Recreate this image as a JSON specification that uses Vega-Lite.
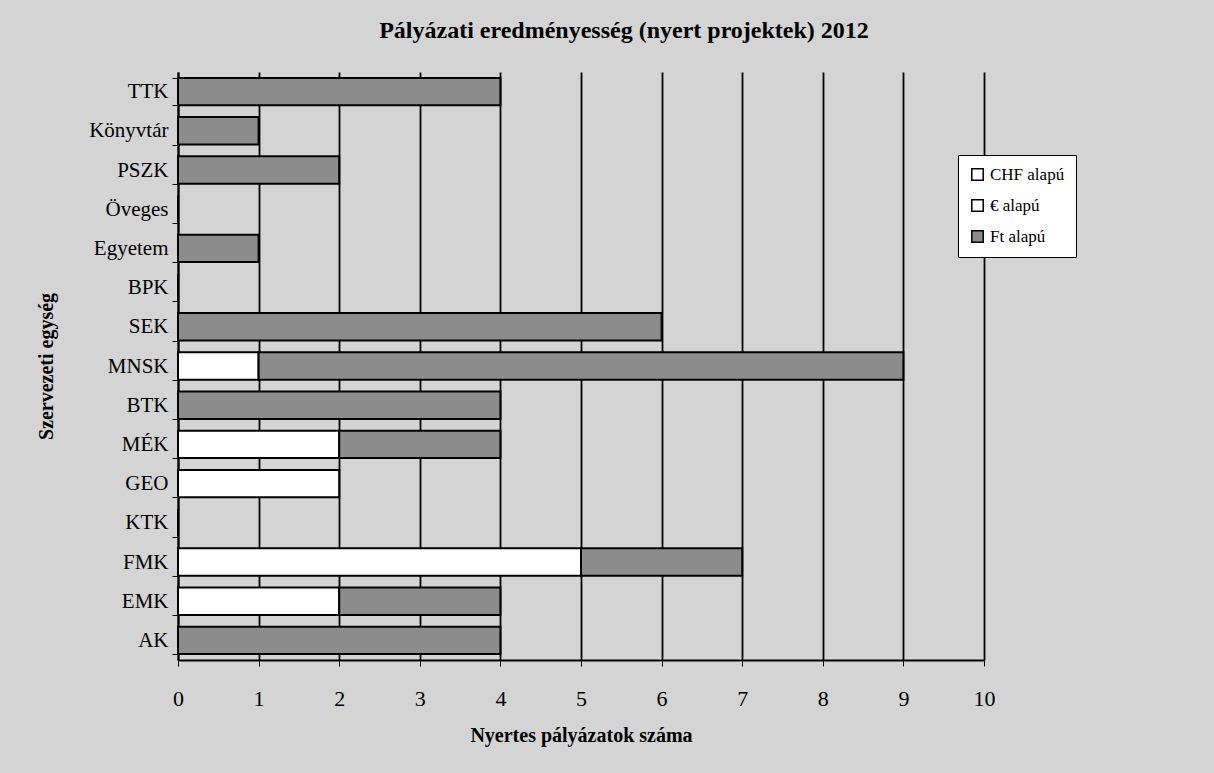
{
  "$schema": "https://vega.github.io/schema/vega-lite/v6.json",
  "autosize": "none",
  "width": 806,
  "height": 588,
  "padding": {"left": 178, "top": 72, "right": 230, "bottom": 113},
  "background": "#d4d4d4",
  "title": {
    "text": "Pályázati eredményesség (nyert projektek) 2012",
    "font": "Liberation Serif",
    "fontSize": 24,
    "fontWeight": "bold",
    "color": "#000000",
    "dx": 43,
    "offset": 18
  },
  "config": {
    "view": {"fill": "#d4d4d4", "stroke": null},
    "font": "Liberation Serif"
  },
  "data": {
    "values": [
      {"unit": "TTK", "type": "Ft alapú", "ord": 3, "value": 4},
      {"unit": "Könyvtár", "type": "Ft alapú", "ord": 3, "value": 1},
      {"unit": "PSZK", "type": "Ft alapú", "ord": 3, "value": 2},
      {"unit": "Öveges", "type": "Ft alapú", "ord": 3, "value": 0},
      {"unit": "Egyetem", "type": "Ft alapú", "ord": 3, "value": 1},
      {"unit": "BPK", "type": "Ft alapú", "ord": 3, "value": 0},
      {"unit": "SEK", "type": "Ft alapú", "ord": 3, "value": 6},
      {"unit": "MNSK", "type": "€ alapú", "ord": 2, "value": 1},
      {"unit": "MNSK", "type": "Ft alapú", "ord": 3, "value": 8},
      {"unit": "BTK", "type": "Ft alapú", "ord": 3, "value": 4},
      {"unit": "MÉK", "type": "€ alapú", "ord": 2, "value": 2},
      {"unit": "MÉK", "type": "Ft alapú", "ord": 3, "value": 2},
      {"unit": "GEO", "type": "€ alapú", "ord": 2, "value": 2},
      {"unit": "KTK", "type": "Ft alapú", "ord": 3, "value": 0},
      {"unit": "FMK", "type": "€ alapú", "ord": 2, "value": 5},
      {"unit": "FMK", "type": "Ft alapú", "ord": 3, "value": 2},
      {"unit": "EMK", "type": "€ alapú", "ord": 2, "value": 2},
      {"unit": "EMK", "type": "Ft alapú", "ord": 3, "value": 2},
      {"unit": "AK", "type": "Ft alapú", "ord": 3, "value": 4},
      {"unit": "AK", "type": "CHF alapú", "ord": 1, "value": 0}
    ]
  },
  "mark": {"type": "bar", "stroke": "#000000", "strokeWidth": 2},
  "encoding": {
    "y": {
      "field": "unit",
      "type": "nominal",
      "sort": ["TTK", "Könyvtár", "PSZK", "Öveges", "Egyetem", "BPK", "SEK", "MNSK", "BTK", "MÉK", "GEO", "KTK", "FMK", "EMK", "AK"],
      "scale": {"paddingInner": 0.3, "paddingOuter": 0.15},
      "title": "Szervezeti egység",
      "axis": {
        "labelFont": "Liberation Serif",
        "labelFontSize": 21,
        "labelColor": "#000000",
        "labelPadding": 4,
        "titleFont": "Liberation Serif",
        "titleFontSize": 20,
        "titleFontWeight": "bold",
        "titleColor": "#000000",
        "titlePadding": 32,
        "domainColor": "#000000",
        "domainWidth": 2,
        "tickColor": "#000000",
        "tickBand": "extent",
        "tickSize": 6,
        "ticks": true,
        "grid": false
      }
    },
    "x": {
      "field": "value",
      "type": "quantitative",
      "stack": "zero",
      "scale": {"domain": [0, 10], "nice": false},
      "title": "Nyertes pályázatok száma",
      "axis": {
        "values": [0, 1, 2, 3, 4, 5, 6, 7, 8, 9, 10],
        "labelFlush": false,
        "labelFont": "Liberation Serif",
        "labelFontSize": 22,
        "labelColor": "#000000",
        "labelPadding": 22,
        "titleFont": "Liberation Serif",
        "titleFontSize": 20,
        "titleFontWeight": "bold",
        "titleColor": "#000000",
        "titlePadding": 16,
        "domainColor": "#000000",
        "domainWidth": 2,
        "tickColor": "#000000",
        "tickSize": 6,
        "grid": true,
        "gridColor": "#000000",
        "gridWidth": 1.8,
        "gridOpacity": 1
      }
    },
    "color": {
      "field": "type",
      "type": "nominal",
      "scale": {"domain": ["CHF alapú", "€ alapú", "Ft alapú"], "range": ["#ffffff", "#ffffff", "#8c8c8c"]},
      "legend": {
        "title": null,
        "orient": "none",
        "legendX": 780,
        "legendY": 83,
        "fillColor": "#ffffff",
        "strokeColor": "#000000",
        "padding": 11,
        "labelFont": "Liberation Serif",
        "labelFontSize": 17,
        "labelColor": "#000000",
        "symbolType": "square",
        "symbolSize": 130,
        "symbolStrokeColor": "#000000",
        "symbolStrokeWidth": 1.5,
        "rowPadding": 12,
        "labelLimit": 200
      }
    },
    "order": {"field": "ord", "type": "quantitative"}
  }
}
